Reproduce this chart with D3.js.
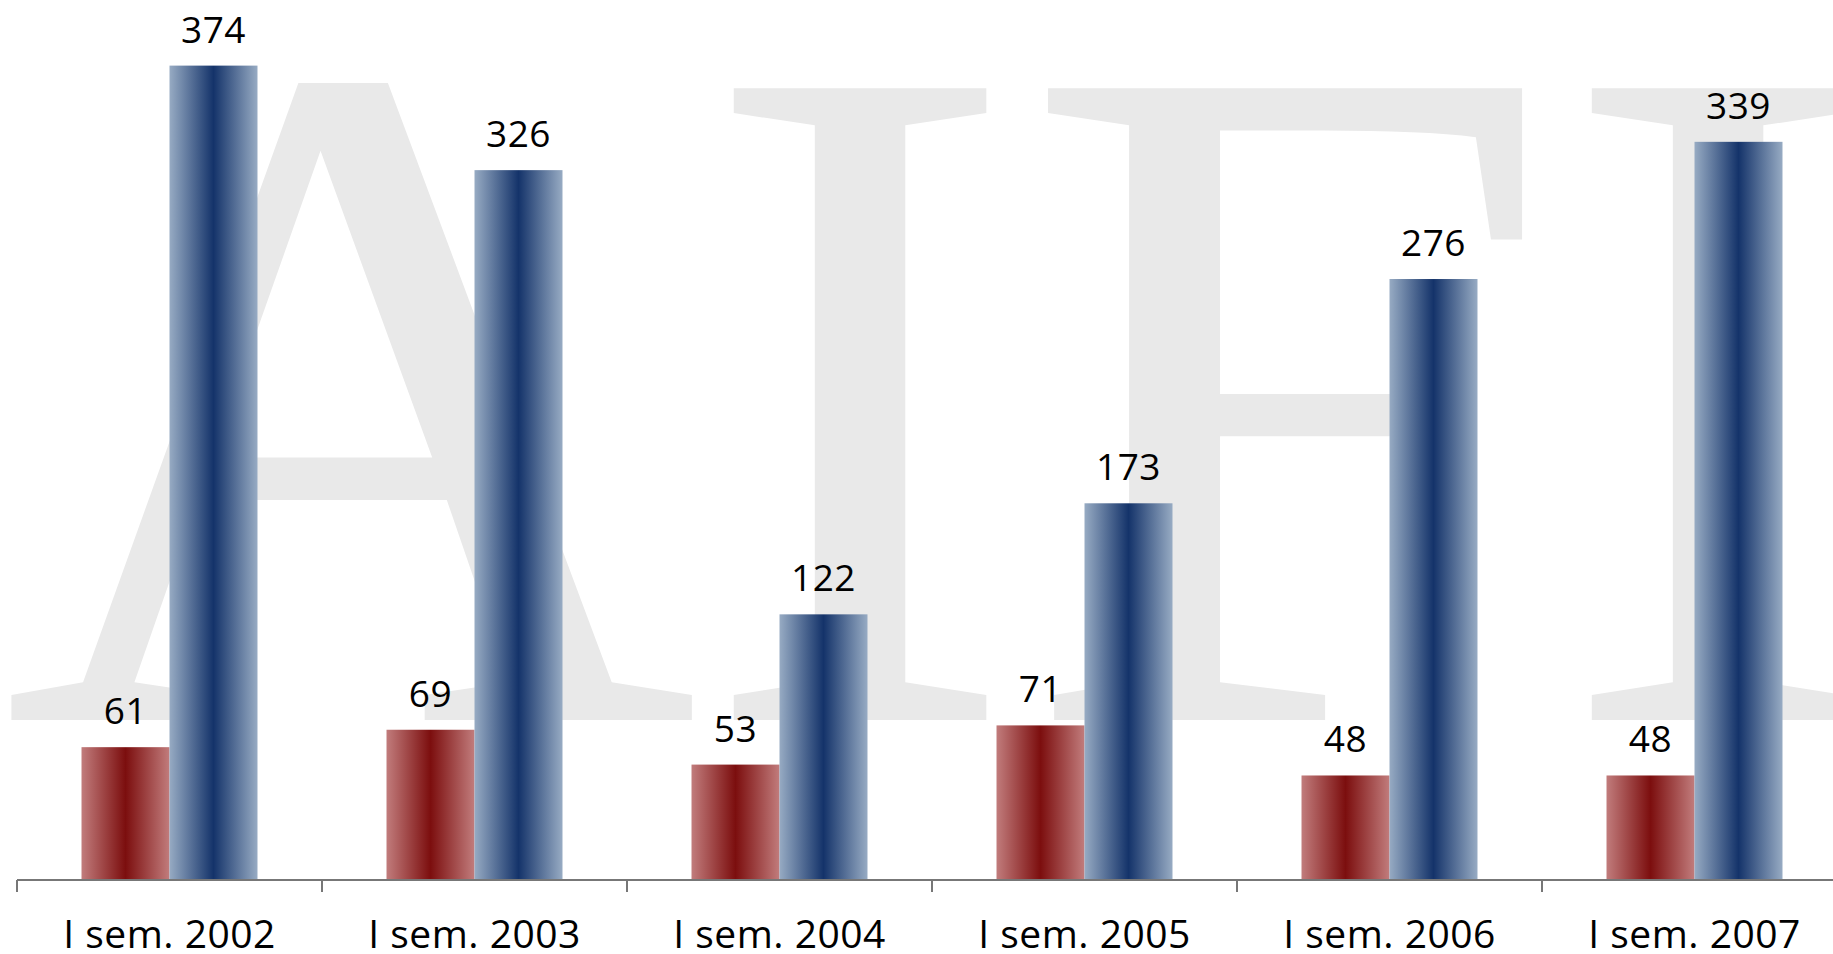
<!DOCTYPE html>
<html>
<head>
<meta charset="utf-8">
<script src="https://cdn.jsdelivr.net/npm/d3@7/dist/d3.min.js"></script>
<style>
  html, body { margin: 0; padding: 0; background: #ffffff; }
  svg { display: block; }
</style>
</head>
<body>
<svg id="chart" width="1833" height="954"></svg>
<script>
const categories = ["I sem. 2002", "I sem. 2003", "I sem. 2004", "I sem. 2005", "I sem. 2006", "I sem. 2007"];
const seriesNames = ["red", "blue"];
const redValues = [61, 69, 53, 71, 48, 48];
const blueValues = [374, 326, 122, 173, 276, 339];
const watermarkText = "AIFI";

const W = 1833, H = 954;
const svg = d3.select("#chart");

// Watermark
svg.append("text")
  .attr("x", 2)
  .attr("y", 720)
  .attr("font-family", "'Liberation Serif', 'Times New Roman', serif")
  .attr("font-size", 965)
  .attr("letter-spacing", 0)
  .attr("fill", "#e9e9e9")
  .text(watermarkText);

// Gradients
const defs = svg.append("defs");
function grad(id, edge, mid) {
  const g = defs.append("linearGradient").attr("id", id)
    .attr("x1", "0%").attr("x2", "100%").attr("y1", "0%").attr("y2", "0%");
  g.append("stop").attr("offset", "0%").attr("stop-color", edge);
  g.append("stop").attr("offset", "50%").attr("stop-color", mid);
  g.append("stop").attr("offset", "100%").attr("stop-color", edge);
}
grad("gred", "#c17c7c", "#7c0e0e");
grad("gblue", "#97abc3", "#14336a");

const x = d3.scaleBand().domain(categories).range([17, 17 + 305 * categories.length]).padding(0);
const xs = d3.scaleBand().domain(seriesNames).range([0, x.bandwidth()]).paddingInner(0).paddingOuter(0.733);
const y = d3.scaleLinear().domain([0, 400]).range([880, 9]);

const data = categories.map((c, i) => ({ cat: c, vals: [
  { s: "red", v: redValues[i] },
  { s: "blue", v: blueValues[i] }
]}));

const groups = svg.selectAll("g.cat").data(data).join("g")
  .attr("class", "cat")
  .attr("transform", d => `translate(${x(d.cat)},0)`);

groups.selectAll("rect").data(d => d.vals).join("rect")
  .attr("x", d => xs(d.s))
  .attr("width", xs.bandwidth())
  .attr("y", d => y(d.v))
  .attr("height", d => y(0) - y(d.v))
  .attr("fill", d => d.s === "red" ? "url(#gred)" : "url(#gblue)");

groups.selectAll("text.val").data(d => d.vals).join("text")
  .attr("class", "val")
  .attr("x", d => xs(d.s) + xs.bandwidth() / 2)
  .attr("y", d => y(d.v) - 23)
  .attr("text-anchor", "middle")
  .attr("font-family", "'Open Sans', sans-serif")
  .attr("font-size", 37)
  .attr("letter-spacing", 0.5)
  .attr("fill", "#000")
  .text(d => d.v);

// Axis
const axisG = svg.append("g");
axisG.append("line")
  .attr("x1", x.range()[0]).attr("x2", W)
  .attr("y1", y(0)).attr("y2", y(0))
  .attr("stroke", "#777777").attr("stroke-width", 2);
const tickPos = categories.map(c => x(c)).concat([x.range()[1]]);
axisG.selectAll("line.tick").data(tickPos).join("line")
  .attr("class", "tick")
  .attr("x1", d => d).attr("x2", d => d)
  .attr("y1", y(0)).attr("y2", y(0) + 12)
  .attr("stroke", "#777777").attr("stroke-width", 2);
axisG.selectAll("text.lab").data(categories).join("text")
  .attr("class", "lab")
  .attr("x", d => x(d) + x.bandwidth() / 2)
  .attr("y", 948)
  .attr("text-anchor", "middle")
  .attr("font-family", "'Open Sans', sans-serif")
  .attr("font-size", 39)
  .attr("letter-spacing", 0.5)
  .attr("fill", "#000")
  .text(d => d);
</script>
</body>
</html>
